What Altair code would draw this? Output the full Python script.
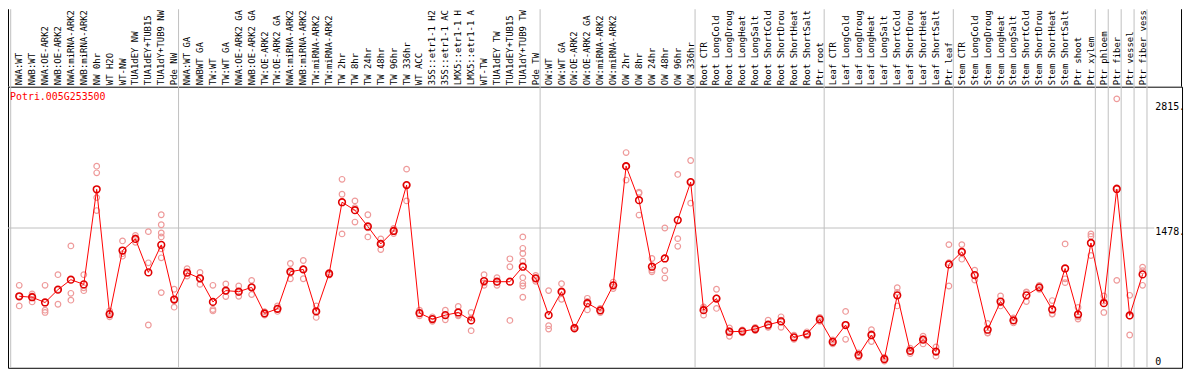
import altair as alt
import pandas as pd

gene = "Potri.005G253500"

labels = [
    "NWA:WT", "NWB:WT", "NWA:OE-ARK2", "NWB:OE-ARK2", "NWA:miRNA-ARK2", "NWB:miRNA-ARK2",
    "NW 0hr", "WT H2O", "WT-NW", "TUA1dEY NW", "TUA1dEY+TUB15", "TUA1dY+TUB9 NW", "Pde NW",
    "NWA:WT GA", "NWBWT GA", "TW:WT", "TW:WT GA", "NWA:OE-ARK2 GA", "NWB:OE-ARK2 GA",
    "TW:OE-ARK2", "TW:OE-ARK2 GA", "NWA:miRNA-ARK2", "NWB:miRNA-ARK2", "TW:miRNA-ARK2",
    "TW:miRNA-ARK2", "TW 2hr", "TW 8hr", "TW 24hr", "TW 48hr", "TW 96hr", "TW 336hr", "WT ACC",
    "35S::etr1-1 H2", "35S::etr1-1 AC", "LMX5::etr1-1 H", "LMX5::etr1-1 A", "WT-TW",
    "TUA1dEY TW", "TUA1dEY+TUB15", "TUA1dY+TUB9 TW", "Pde TW",
    "OW:WT", "OW:WT GA", "OW:OE-ARK2", "OW:OE-ARK2 GA", "OW:miRNA-ARK2", "OW:miRNA-ARK2",
    "OW 2hr", "OW 8hr", "OW 24hr", "OW 48hr", "OW 96hr", "OW 336hr",
    "Root CTR", "Root LongCold", "Root LongDroug", "Root LongHeat", "Root LongSalt",
    "Root ShortCold", "Root ShortDrou", "Root ShortHeat", "Root ShortSalt", "Ptr root",
    "Leaf CTR", "Leaf LongCold", "Leaf LongDroug", "Leaf LongHeat", "Leaf LongSalt",
    "Leaf ShortCold", "Leaf ShortDrou", "Leaf ShortHeat", "Leaf ShortSalt", "Ptr leaf",
    "Stem CTR", "Stem LongCold", "Stem LongDroug", "Stem LongHeat", "Stem LongSalt",
    "Stem ShortCold", "Stem ShortDrou", "Stem ShortHeat", "Stem ShortSalt", "Ptr shoot",
    "Ptr xylem", "Ptr phloem", "Ptr fiber", "Ptr vessel", "Ptr fiber vess",
]

means = [
    766, 756, 701, 835, 939, 890, 1882, 580, 1243, 1364, 1015, 1302, 732,
    1012, 953, 707, 825, 814, 859, 587, 635, 1022, 1046, 608, 1001, 1747, 1664, 1494, 1312,
    1447, 1926, 590, 528, 569, 597, 514, 925, 918, 918, 1074, 953,
    569, 814, 433, 694, 618, 880, 2123, 1768, 1074, 1160, 1561, 1957,
    621, 742, 396, 400, 424, 469, 504, 338, 372, 525,
    290, 466, 152, 362, 110, 776, 196, 313, 189, 1098,
    1229, 987, 417, 711, 514, 776, 859, 628, 1056, 576, 1322,
    694, 1885, 566, 994,
]

replicates = [
    [880, 766, 665], [790, 770, 707], [880, 621, 597], [991, 835, 683], [1291, 797, 725],
    [991, 855, 824], [2123, 2054, 1795, 1660], [614, 590, 552], [1343, 1210, 1184],
    [1401, 1375, 1329], [1440, 1115, 466], [1616, 1512, 1426, 1385, 1260, 1167, 804],
    [839, 735, 652],
    [1053, 1012, 977], [1015, 953, 890], [880, 628, 613], [894, 820, 763], [873, 805, 766],
    [932, 860, 784], [605, 587, 569], [665, 632, 608], [1108, 1010, 949], [1139, 1050, 949],
    [665, 614, 545], [1015, 1001, 987], [1986, 1830, 1416], [1761, 1690, 1540],
    [1616, 1480, 1385], [1364, 1320, 1253], [1474, 1447, 1420], [2092, 1926, 1761],
    [621, 587, 562], [552, 528, 505], [621, 565, 521], [659, 570, 562], [597, 538, 407],
    [991, 905, 880], [960, 914, 880], [1157, 1074, 514],
    [1385, 1266, 1212, 1132, 960, 901, 873, 756], [984, 953, 922],
    [825, 459, 424], [897, 810, 735], [445, 433, 421], [745, 713, 624], [640, 618, 596],
    [914, 880, 846], [2265, 2123, 1978], [1851, 1840, 1613], [1160, 1040, 1022],
    [1478, 1035, 956], [2037, 1367, 1287], [2182, 1957, 1737],
    [655, 640, 569], [839, 748, 639], [435, 404, 349], [415, 400, 385], [440, 424, 408],
    [517, 448, 442], [552, 518, 442], [360, 338, 316], [395, 372, 350], [545, 525, 505],
    [310, 290, 270], [608, 473, 317], [175, 152, 130], [417, 376, 293], [130, 110, 90],
    [856, 807, 665], [224, 196, 168], [349, 320, 269], [237, 189, 141], [1305, 1116, 873],
    [1305, 1229, 1153], [1039, 987, 935], [483, 385, 383], [770, 698, 665], [540, 514, 488],
    [811, 806, 711], [880, 859, 838], [721, 583, 580], [1312, 948, 908], [649, 551, 528],
    [1416, 1391, 1191],
    [770, 715, 597], [2825, 1898, 932], [776, 560, 362], [1070, 1032, 880],
]

group_sizes = [13, 28, 12, 10, 10, 11, 1, 1, 1, 1]
axis_labels = ["2815.", "1478.", "0"]
grid_value = 1478

# ---- layout / styling ----
W, H = 1182, 283
TOP = 78
STEP = 13.0
X0 = 11.3
d0 = -X0 / STEP
xscale = alt.Scale(domain=[d0, d0 + W / STEP], nice=False, zero=False)
yscale = alt.Scale(domain=[20, 2952], nice=False, zero=False)
FONT = "DejaVu Sans Mono"
GRAY = "#c0c0c0"

n = len(labels)
mean_df = pd.DataFrame({"i": list(range(n)), "label": labels, "mean": means})
rep_df = pd.DataFrame(
    [{"i": i, "value": v} for i, reps in enumerate(replicates) for v in reps]
)
bounds = [0]
for g in group_sizes:
    bounds.append(bounds[-1] + g)
sep_df = pd.DataFrame({"i": [b - 0.66 for b in bounds]})
grid_df = pd.DataFrame({"mean": [grid_value]})

X = lambda f: alt.X(f, scale=xscale, axis=None)
Y = lambda f: alt.Y(f, scale=yscale, axis=None)

seps = alt.Chart(sep_df).mark_rule(color=GRAY, strokeWidth=1).encode(
    x=X("i:Q"), y=alt.value(-TOP), y2=alt.value(H)
)
grid = alt.Chart(grid_df).mark_rule(color=GRAY, strokeWidth=1).encode(
    y=Y("mean:Q"), x=alt.value(0), x2=alt.value(1154)
)
border_layers = [
    alt.Chart(pd.DataFrame({"k": [0]})).mark_rule(color="black").encode(
        x=alt.value(xx), y=alt.value(-TOP), y2=alt.value(0)
    )
    for xx in (0.5, W - 0.5)
]
reps = alt.Chart(rep_df).mark_point(
    shape="circle", filled=False, size=32, color="#ee9a9a", strokeWidth=1.2, opacity=1
).encode(x=X("i:Q"), y=Y("value:Q"))
line = alt.Chart(mean_df).mark_line(color="#ff0000", strokeWidth=1).encode(
    x=X("i:Q"), y=Y("mean:Q")
)
mean_pts = alt.Chart(mean_df).mark_point(
    shape="circle", filled=False, size=45, color="#e00000", strokeWidth=1.6, opacity=1
).encode(x=X("i:Q"), y=Y("mean:Q"))
top_labels = alt.Chart(mean_df).mark_text(
    angle=270, align="left", baseline="middle", font=FONT, fontSize=9, color="black"
).encode(x=X("i:Q"), y=alt.value(-1.5), text="label:N")
title = alt.Chart(pd.DataFrame({"t": [gene]})).mark_text(
    align="left", baseline="middle", font=FONT, fontSize=10, color="#ff0000"
).encode(x=alt.value(2), y=alt.value(10.7), text="t:N")

label_y = [20.7, 146.7, 276.7]
axis_layers = [
    alt.Chart(pd.DataFrame({"t": [lab]})).mark_text(
        align="left", baseline="middle", font=FONT, fontSize=10, color="black"
    ).encode(x=alt.value(1155), y=alt.value(yy), text="t:N")
    for lab, yy in zip(axis_labels, label_y)
]

chart = alt.layer(
    seps, grid, *border_layers, reps, line, mean_pts, top_labels, title, *axis_layers
).properties(
    width=W, height=H,
    autosize=alt.AutoSizeParams(type="none"),
    padding={"left": 0, "top": TOP, "right": 4, "bottom": 1},
).configure_view(stroke="black", strokeWidth=1)

chart.save("out.html", embed_options={"renderer": "svg", "actions": False})
